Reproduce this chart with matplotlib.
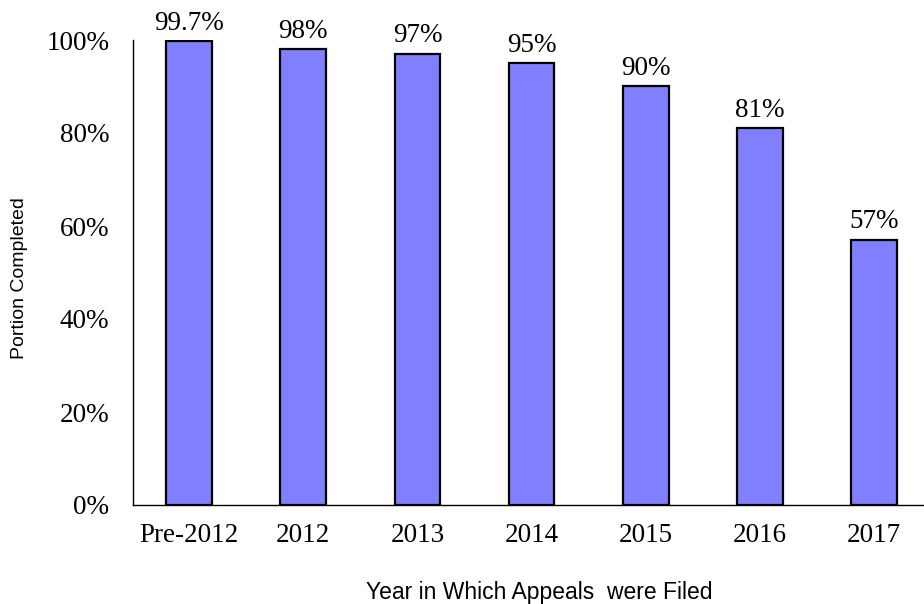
import matplotlib.pyplot as plt
from matplotlib.ticker import FuncFormatter

# completion share by filing year
years = ["Pre-2012", "2012", "2013", "2014", "2015", "2016", "2017"]
completed = [99.7, 98, 97, 95, 90, 81, 57]
bar_labels = ["99.7%", "98%", "97%", "95%", "90%", "81%", "57%"]
y_ticks = [0, 20, 40, 60, 80, 100]

serif = ["Liberation Serif", "DejaVu Serif"]
sans = ["Liberation Sans", "DejaVu Sans"]

fig = plt.figure(figsize=(9.24, 6.04), dpi=100)
ax = fig.add_axes([133 / 924, 1 - 505 / 604, 1 - 133 / 924, (505 - 40) / 604])

x = list(range(len(years)))
bars = ax.bar(x, completed, width=0.40, color="#8080FF",
              edgecolor="black", linewidth=1.6, zorder=2)

for rect, lab in zip(bars, bar_labels):
    ax.text(rect.get_x() + rect.get_width() / 2, rect.get_height() + 1.2, lab,
            ha="center", va="bottom", fontsize=19.5, family=serif)

ax.set_xlim(-0.49, 6.436)
ax.set_ylim(0, 100)
ax.set_xticks(x)
ax.set_xticklabels(years, fontsize=19.5, family=serif)
ax.set_yticks(y_ticks)
ax.yaxis.set_major_formatter(FuncFormatter(lambda v, _: f"{v:.0f}%"))
for t in ax.get_yticklabels():
    t.set_family(serif)
    t.set_fontsize(19.5)
ax.tick_params(axis="both", length=0)
ax.tick_params(axis="y", pad=17)
ax.tick_params(axis="x", pad=13)

for side in ["top", "right"]:
    ax.spines[side].set_visible(False)
ax.spines["left"].set_linewidth(1.0)
ax.spines["bottom"].set_linewidth(1.0)

fig.text(20 / 924, 1 - 278 / 604, "Portion Completed", rotation=90,
         ha="center", va="center", fontsize=14, family=sans)
fig.text(539 / 924, 1 - 592 / 604, "Year in Which Appeals  were Filed",
         ha="center", va="center", fontsize=16.5, family=sans)

fig.savefig("out.png", dpi=100)
